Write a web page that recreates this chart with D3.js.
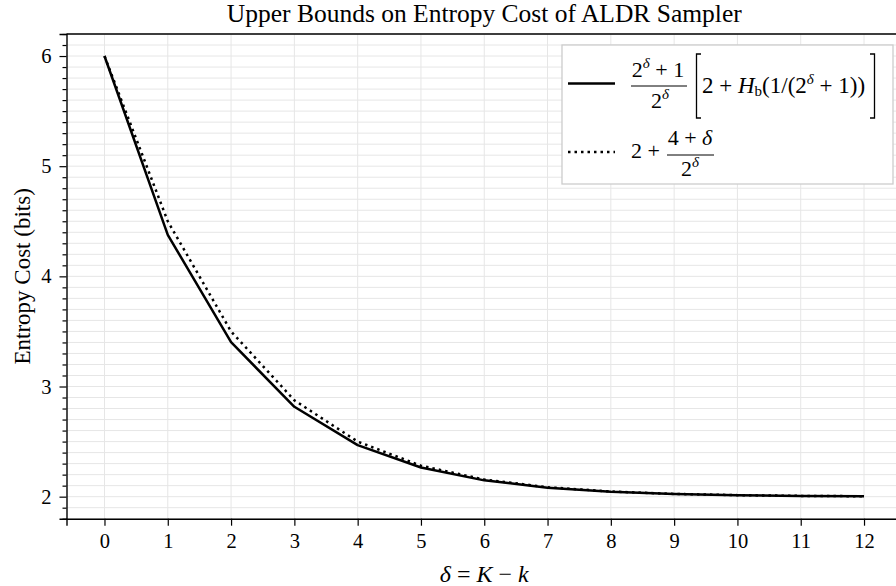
<!DOCTYPE html>
<html>
<head>
<meta charset="utf-8">
<script src="https://cdn.jsdelivr.net/npm/d3@7"></script>
<style>
  body { margin: 0; background: #fff; }
  svg { display: block; font-family: "Liberation Serif", "DejaVu Serif", serif; }
</style>
</head>
<body>
<svg id="chart" width="896" height="586"></svg>
<script>
// chart values
var deltas = [0, 1, 2, 3, 4, 5, 6, 7, 8, 9, 10, 11, 12];
var exactBound = [6.000, 4.377, 3.402, 2.816, 2.468, 2.265, 2.148, 2.082, 2.045, 2.024, 2.013, 2.007, 2.004];
var simpleBound = [6.000, 4.500, 3.500, 2.875, 2.500, 2.281, 2.156, 2.086, 2.047, 2.025, 2.014, 2.007, 2.004];
var xTicks = [0, 1, 2, 3, 4, 5, 6, 7, 8, 9, 10, 11, 12];
var yTicks = [2, 3, 4, 5, 6];
var yMinorTicks = d3.range(18, 63).map(function(v) { return v / 10; });
var titleText = 'Upper Bounds on Entropy Cost of ALDR Sampler';
var yLabelText = 'Entropy Cost (bits)';

var svg = d3.select('#chart');
var plotL = 66.5, plotR = 902, plotT = 34, plotB = 518.7;

var x = d3.scaleLinear().domain([-0.6, 12.6]).range([plotL, plotR]);
var y = d3.scaleLinear().domain([1.8, 6.2]).range([plotB, plotT]);

// grid
var grid = svg.append('g').attr('stroke', '#e6e6e6').attr('stroke-width', 1);
grid.selectAll('.hgrid').data(yMinorTicks).enter().append('line')
    .attr('x1', plotL).attr('x2', plotR)
    .attr('y1', function(d) { return y(d); })
    .attr('y2', function(d) { return y(d); });
grid.selectAll('.vgrid').data(xTicks).enter().append('line')
    .attr('y1', plotT).attr('y2', plotB)
    .attr('x1', function(d) { return x(d); })
    .attr('x2', function(d) { return x(d); });

// axes
var xAxis = svg.append('g').attr('transform', 'translate(0,' + plotB + ')')
    .call(d3.axisBottom(x).tickValues(xTicks).tickSize(7).tickPadding(8).tickFormat(d3.format('d')));
var yAxis = svg.append('g').attr('transform', 'translate(' + plotL + ',0)')
    .call(d3.axisLeft(y).tickValues(yTicks).tickSize(7).tickPadding(8).tickFormat(d3.format('d')));
svg.append('g').attr('transform', 'translate(' + plotL + ',0)')
    .call(d3.axisLeft(y).tickValues(yMinorTicks.filter(function(v) { return Math.abs(v - Math.round(v)) > 0.01; }))
        .tickSize(4).tickFormat(''))
    .select('.domain').remove();

[xAxis, yAxis].forEach(function(a) {
    a.selectAll('text').attr('font-size', 20.5).attr('fill', '#000')
        .attr('font-family', '"Liberation Serif", serif');
    a.select('.domain').attr('stroke', '#000').attr('stroke-width', 1.4);
});
svg.selectAll('.tick line').attr('stroke', '#000').attr('stroke-width', 1.2);

svg.append('line').attr('x1', plotL).attr('x2', plotR).attr('y1', plotT).attr('y2', plotT)
    .attr('stroke', '#000').attr('stroke-width', 1.4);

// curves
var line = d3.line()
    .x(function(d) { return x(d[0]); })
    .y(function(d) { return y(d[1]); });

svg.append('path')
    .datum(d3.zip(deltas, exactBound))
    .attr('d', line).attr('fill', 'none')
    .attr('stroke', '#000').attr('stroke-width', 2.5)
    .attr('stroke-linejoin', 'round');
svg.append('path')
    .datum(d3.zip(deltas, simpleBound))
    .attr('d', line).attr('fill', 'none')
    .attr('stroke', '#000').attr('stroke-width', 2.5)
    .attr('stroke-dasharray', '2.5,4');

// titles
svg.append('text').attr('x', (plotL + plotR) / 2).attr('y', 22)
    .attr('text-anchor', 'middle').attr('font-size', 25.5).text(titleText);
svg.append('text').attr('transform', 'translate(29.5,' + ((plotT + plotB) / 2) + ') rotate(-90)')
    .attr('text-anchor', 'middle').attr('font-size', 23).text(yLabelText);
var xl = svg.append('text').attr('x', (plotL + plotR) / 2).attr('y', 582)
    .attr('text-anchor', 'middle').attr('font-size', 24);
xl.append('tspan').attr('font-style', 'italic').text('δ');
xl.append('tspan').text(' = ');
xl.append('tspan').attr('font-style', 'italic').text('K');
xl.append('tspan').text(' − ');
xl.append('tspan').attr('font-style', 'italic').text('k');

// legend
var lg = svg.append('g');
lg.append('rect').attr('x', 562).attr('y', 45).attr('width', 331).attr('height', 139)
    .attr('fill', '#fff').attr('stroke', '#cccccc').attr('stroke-width', 1.3);
lg.append('line').attr('x1', 568).attr('x2', 615).attr('y1', 83.5).attr('y2', 83.5)
    .attr('stroke', '#000').attr('stroke-width', 2.5);
lg.append('line').attr('x1', 568).attr('x2', 615).attr('y1', 152).attr('y2', 152)
    .attr('stroke', '#000').attr('stroke-width', 2.5).attr('stroke-dasharray', '2.5,4');

var fs = 22, sup = 15, rise = 9;
function twoDelta(t, tail) {
    t.append('tspan').text('2');
    t.append('tspan').attr('dy', -rise).attr('font-size', sup).attr('font-style', 'italic').text('δ');
    t.append('tspan').attr('dy', rise).text(tail || '');
}
function fracBar(x1, x2, yy) {
    lg.append('line').attr('x1', x1).attr('x2', x2).attr('y1', yy).attr('y2', yy)
        .attr('stroke', '#000').attr('stroke-width', 1);
}

// entry 1
var n1 = lg.append('text').attr('x', 658).attr('y', 77).attr('text-anchor', 'middle').attr('font-size', fs);
twoDelta(n1, ' + 1');
fracBar(631, 687, 86);
var d1 = lg.append('text').attr('x', 660).attr('y', 108).attr('text-anchor', 'middle').attr('font-size', fs);
twoDelta(d1, '');
lg.append('path').attr('d', 'M701,54H696.5V118H701').attr('fill', 'none').attr('stroke', '#000').attr('stroke-width', 1.3);
lg.append('path').attr('d', 'M870,54H874.5V118H870').attr('fill', 'none').attr('stroke', '#000').attr('stroke-width', 1.3);
var b1 = lg.append('text').attr('x', 702).attr('y', 93).attr('font-size', 23);
b1.append('tspan').text('2 + ');
b1.append('tspan').attr('font-style', 'italic').text('H');
b1.append('tspan').attr('dy', 3).attr('font-size', sup).text('b');
b1.append('tspan').attr('dy', -3).text('(1/(2');
b1.append('tspan').attr('dy', -rise).attr('font-size', sup).attr('font-style', 'italic').text('δ');
b1.append('tspan').attr('dy', rise).text(' + 1))');

// entry 2
lg.append('text').attr('x', 631).attr('y', 158).attr('font-size', fs).text('2 +');
var n2 = lg.append('text').attr('x', 690).attr('y', 145).attr('text-anchor', 'middle').attr('font-size', fs);
n2.append('tspan').text('4 + ');
n2.append('tspan').attr('font-style', 'italic').text('δ');
fracBar(667, 714, 155);
var d2 = lg.append('text').attr('x', 690).attr('y', 176).attr('text-anchor', 'middle').attr('font-size', fs);
twoDelta(d2, '');
</script>
</body>
</html>
